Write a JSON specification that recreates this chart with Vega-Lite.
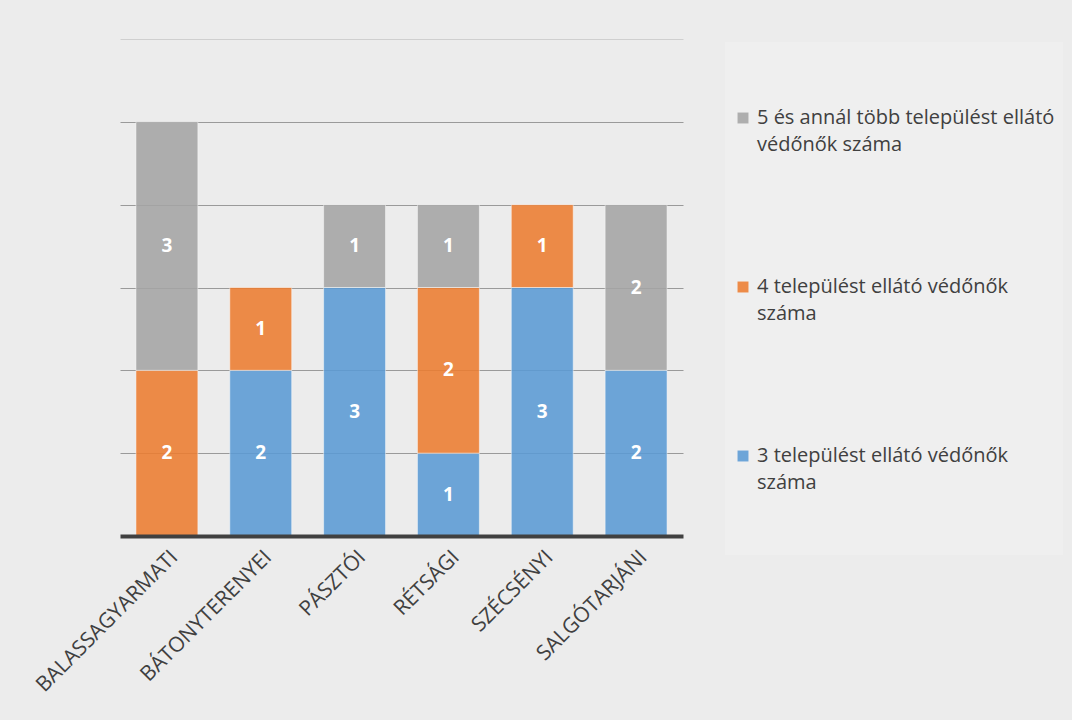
{
  "$schema": "https://vega.github.io/schema/vega-lite/v6.json",
  "width": 563,
  "height": 497,
  "autosize": {"type": "none"},
  "padding": {"left": 120, "top": 39, "right": 389, "bottom": 184},
  "background": "#ececec",
  "config": {
    "font": "Open Sans",
    "view": {"stroke": null},
    "style": {"guide-label": {"lineHeight": 27}}
  },
  "data": {
    "values": [
      {"jaras": "BALASSAGYARMATI", "series": "4 települést ellátó védőnők száma", "n": 2},
      {"jaras": "BALASSAGYARMATI", "series": "5 és annál több települést ellátó védőnők száma", "n": 3},
      {"jaras": "BÁTONYTERENYEI", "series": "3 települést ellátó védőnők száma", "n": 2},
      {"jaras": "BÁTONYTERENYEI", "series": "4 települést ellátó védőnők száma", "n": 1},
      {"jaras": "PÁSZTÓI", "series": "3 települést ellátó védőnők száma", "n": 3},
      {"jaras": "PÁSZTÓI", "series": "5 és annál több települést ellátó védőnők száma", "n": 1},
      {"jaras": "RÉTSÁGI", "series": "3 települést ellátó védőnők száma", "n": 1},
      {"jaras": "RÉTSÁGI", "series": "4 települést ellátó védőnők száma", "n": 2},
      {"jaras": "RÉTSÁGI", "series": "5 és annál több települést ellátó védőnők száma", "n": 1},
      {"jaras": "SZÉCSÉNYI", "series": "3 települést ellátó védőnők száma", "n": 3},
      {"jaras": "SZÉCSÉNYI", "series": "4 települést ellátó védőnők száma", "n": 1},
      {"jaras": "SALGÓTARJÁNI", "series": "3 települést ellátó védőnők száma", "n": 2},
      {"jaras": "SALGÓTARJÁNI", "series": "5 és annál több települést ellátó védőnők száma", "n": 2}
    ]
  },
  "encoding": {
    "x": {
      "field": "jaras",
      "type": "nominal",
      "sort": null,
      "scale": {"paddingInner": 0.34, "paddingOuter": 0.17},
      "axis": {
        "title": null,
        "labelAngle": -45,
        "labelAlign": "right",
        "labelBaseline": "top",
        "labelPadding": 10,
        "labelFontSize": 21,
        "labelColor": "#404040",
        "ticks": false,
        "domainColor": "#404040",
        "domainWidth": 4,
        "labelLimit": 0,
        "zindex": 1
      }
    },
    "y": {
      "field": "n",
      "type": "quantitative",
      "stack": "zero",
      "scale": {"domain": [0, 6], "nice": false},
      "axis": {
        "title": null,
        "labels": false,
        "ticks": false,
        "domain": false,
        "values": [1, 2, 3, 4, 5, 6],
        "gridColor": {"condition": {"test": "datum.value == 6", "value": "#cfcfcf"}, "value": "#9a9a9a"},
        "gridWidth": 1.2,
        "zindex": 0
      }
    },
    "order": {"field": "series", "sort": "ascending"}
  },
  "layer": [
    {
      "mark": {"type": "bar", "opacity": 0.88, "stroke": "#ffffff", "strokeWidth": 1, "strokeOpacity": 0.5},
      "encoding": {
        "color": {
          "field": "series",
          "type": "nominal",
          "scale": {
            "domain": [
              "5 és annál több települést ellátó védőnők száma",
              "4 települést ellátó védőnők száma",
              "3 települést ellátó védőnők száma"
            ],
            "range": ["#a5a5a5", "#ed7d31", "#5b9bd5"]
          },
          "legend": {
            "title": " ",
            "titleFontSize": 2,
            "titlePadding": 56,
            "orient": "none",
            "legendX": 605,
            "legendY": 3,
            "fillColor": "#efefef",
            "padding": 8,
            "symbolType": "square",
            "symbolSize": 120,
            "symbolStrokeWidth": 0,
            "symbolOpacity": 0.88,
            "labelFontSize": 20,
            "labelColor": "#404040",
            "labelLimit": 0,
            "labelOffset": 4,
            "rowPadding": 122,
            "labelExpr": "datum.label[0] == '5' ? ['5 és annál több települést ellátó', 'védőnők száma'] : datum.label[0] == '4' ? ['4 települést ellátó védőnők', 'száma'] : ['3 települést ellátó védőnők', 'száma', ' ', ' ']"
          }
        }
      }
    },
    {
      "mark": {"type": "text", "color": "#ffffff", "fontWeight": "bold", "fontSize": 19},
      "encoding": {
        "y": {"field": "n", "type": "quantitative", "stack": "zero", "bandPosition": 0.5},
        "text": {"field": "n", "type": "quantitative"}
      }
    }
  ]
}
